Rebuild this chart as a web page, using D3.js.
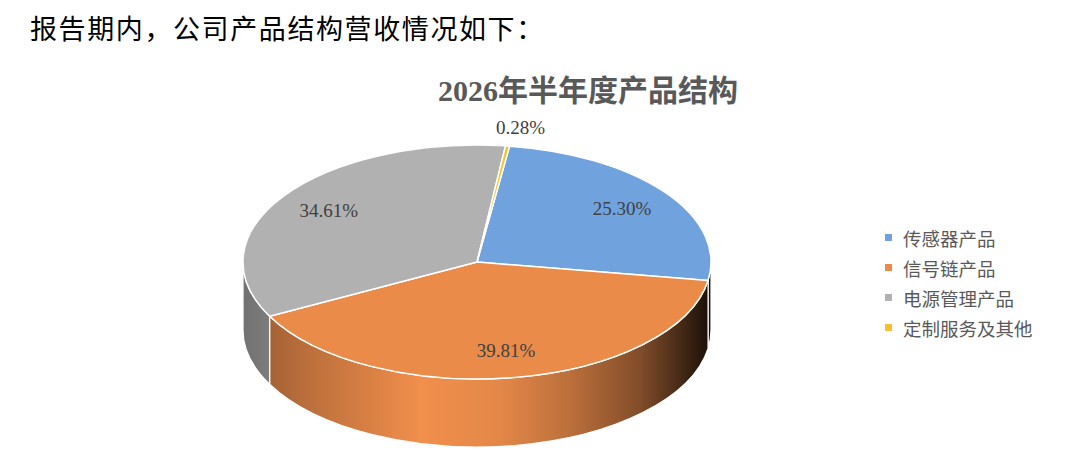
<!DOCTYPE html>
<html>
<head>
<meta charset="utf-8">
<script src="https://d3js.org/d3.v7.min.js"></script>
<style>
    body { margin: 0; background: #ffffff; }
    .header { font-family: "Liberation Serif", "Noto Sans CJK SC", serif; font-size: 27px; letter-spacing: 1.6px; fill: #000; }
    .title { font-family: "Liberation Serif", "Noto Sans CJK SC", serif; font-size: 30px; font-weight: bold; fill: #595959; }
    .pct { font-family: "Liberation Serif", serif; font-size: 19px; fill: #404040; }
    .legend text { font-family: "Noto Sans CJK SC", sans-serif; font-size: 18.5px; fill: #595959; }
</style>
</head>
<body>
<svg id="chart" width="1080" height="461"></svg>
<script>
    // data
    const categories = ["传感器产品", "信号链产品", "电源管理产品", "定制服务及其他"];
    const shares = [25.30, 39.81, 34.61, 0.28];
    const colors = ["#70a3de", "#ea8b4a", "#b1b1b1", "#f3c22e"];
    const headerText = "报告期内，公司产品结构营收情况如下：";
    const titleText = "2026年半年度产品结构";

    const svg = d3.select("svg#chart");

    // pie geometry (tilted ellipse + wall depth)
    const cx = 477, cy = 262, rx = 234, ry = 117, depth = 68;
    const startDeg = 8;

    const pt = (a, z) => [cx + rx * Math.sin(a), cy - ry * Math.cos(a) + (z || 0)];

    const pie = d3.pie().sort(null)
        .startAngle(startDeg * Math.PI / 180)
        .endAngle(startDeg * Math.PI / 180 + 2 * Math.PI);
    const arcs = pie(shares).map((d, i) => ({ ...d, cat: categories[i], color: colors[i] }));

    // gradients for the side walls: shade across x
    const defs = svg.append("defs");
    const shade = [[0, 0.64], [0.12, 0.78], [0.38, 1.03], [0.55, 0.97], [0.7, 0.8], [0.85, 0.55], [0.95, 0.25], [1, 0.1]];
    arcs.forEach((d, i) => {
        const g = defs.append("linearGradient")
            .attr("id", "side" + i)
            .attr("gradientUnits", "userSpaceOnUse")
            .attr("x1", cx - rx).attr("x2", cx + rx)
            .attr("y1", 0).attr("y2", 0);
        const c = d3.rgb(d.color);
        shade.forEach(s => {
            g.append("stop")
                .attr("offset", s[0])
                .attr("stop-color", d3.rgb(Math.min(255, c.r * s[1]), Math.min(255, c.g * s[1]), Math.min(255, c.b * s[1])).formatHex());
        });
    });

    const pie3d = svg.append("g");

    // outer walls, only the front half (PI/2 .. 3PI/2) is visible
    arcs.forEach((d, i) => {
        const s = Math.max(d.startAngle, Math.PI / 2);
        const e = Math.min(d.endAngle, 3 * Math.PI / 2);
        if (e <= s) return;
        const large = (e - s) > Math.PI ? 1 : 0;
        const t0 = pt(s), t1 = pt(e), b1 = pt(e, depth), b0 = pt(s, depth);
        const p = "M" + t0 + " A" + rx + "," + ry + " 0 " + large + " 1 " + t1 +
            " L" + b1 + " A" + rx + "," + ry + " 0 " + large + " 0 " + b0 + " Z";
        pie3d.append("path")
            .attr("d", p)
            .attr("fill", "url(#side" + i + ")")
            .attr("stroke", "#ffffff")
            .attr("stroke-width", 1.2)
            .attr("stroke-linejoin", "round");
    });

    // top faces
    arcs.forEach(d => {
        const a0 = pt(d.startAngle), a1 = pt(d.endAngle);
        const large = (d.endAngle - d.startAngle) > Math.PI ? 1 : 0;
        const p = "M" + [cx, cy] + " L" + a0 + " A" + rx + "," + ry + " 0 " + large + " 1 " + a1 + " Z";
        pie3d.append("path")
            .attr("d", p)
            .attr("fill", d.color)
            .attr("stroke", "#ffffff")
            .attr("stroke-width", 1.5)
            .attr("stroke-linejoin", "round");
    });

    // percentage labels
    pie3d.selectAll("text.pct").data(arcs)
        .join("text")
        .attr("class", "pct")
        .attr("text-anchor", "middle")
        .attr("dominant-baseline", "central")
        .attr("transform", d => {
            const mid = (d.startAngle + d.endAngle) / 2;
            const f = d.value < 1 ? 1.16 : 0.77;
            const x = cx + f * rx * Math.sin(mid) + (d.value < 1 ? 8 : 0);
            const y = cy - f * ry * Math.cos(mid);
            return "translate(" + x + "," + y + ")";
        })
        .text(d => d.value.toFixed(2) + "%");

    // header and title
    svg.append("text").attr("class", "header")
        .attr("x", 30).attr("y", 39)
        .text(headerText);

    svg.append("text").attr("class", "title")
        .attr("x", 588).attr("y", 101)
        .attr("text-anchor", "middle")
        .text(titleText);

    // legend
    const legend = svg.append("g").attr("class", "legend")
        .attr("transform", "translate(885,238)");
    const item = legend.selectAll("g").data(arcs)
        .join("g")
        .attr("transform", (d, i) => "translate(0," + i * 30 + ")");
    item.append("rect")
        .attr("x", 0).attr("y", -4)
        .attr("width", 7).attr("height", 7)
        .attr("fill", d => d.color);
    item.append("text")
        .attr("x", 18).attr("y", 0)
        .attr("dominant-baseline", "central")
        .text(d => d.cat);
</script>
</body>
</html>
